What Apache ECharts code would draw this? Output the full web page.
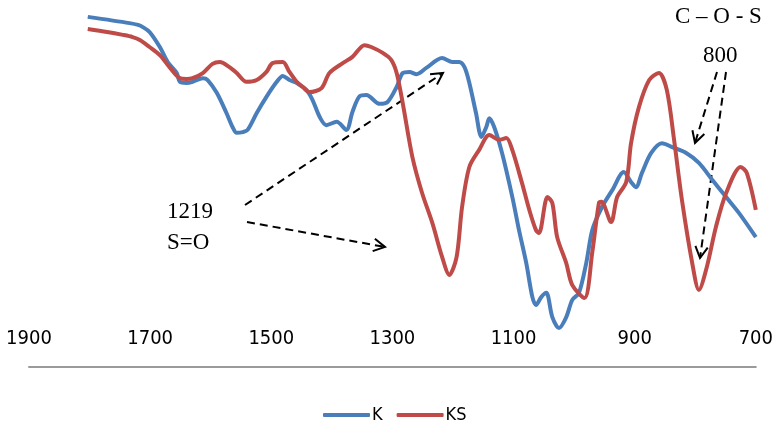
<!DOCTYPE html>
<html>
<head>
<meta charset="utf-8">
<script src="https://cdn.jsdelivr.net/npm/echarts@6/dist/echarts.min.js"></script>
<style>
html,body{margin:0;padding:0;background:#fff;}
#chart{width:776px;height:432px;}
</style>
</head>
<body>
<div id="chart"></div>
<script>
// Wavenumber tick labels (cm-1)
const tickLabels = [1900, 1700, 1500, 1300, 1100, 900, 700];
const seriesNames = ['K', 'KS'];
// [wavenumber, relative transmittance]
const kData = [
[1803,95.4],[1734,93.7],[1720,93.2],[1712,92.6],[1701,91.3],[1684,87.2],[1671,83.1],[1656,80.1],[1651,77.7],[1640,77.4],
[1630,77.7],[1613,78.7],[1605,78.2],[1590,74.7],[1574,69.2],[1564,65.4],[1557,63.8],[1547,64.0],[1539,64.6],[1524,69.2],
[1508,73.6],[1491,77.7],[1481,79.3],[1470,78.2],[1458,77.4],[1442,75.5],[1432,72.8],[1420,68.1],[1409,65.9],[1392,66.8],
[1376,64.6],[1366,69.5],[1354,73.8],[1343,74.1],[1321,71.7],[1308,72.2],[1293,76.3],[1283,80.1],[1272,80.4],[1260,79.8],
[1244,81.5],[1218,84.2],[1201,83.1],[1190,83.1],[1181,81.7],[1173,77.4],[1162,69.2],[1153,62.7],[1145,65.4],[1140,67.8],
[1132,65.4],[1119,58.3],[1102,46.3],[1091,37.3],[1079,28.3],[1069,19.1],[1063,16.9],[1054,19.1],[1046,20.2],[1036,13.6],
[1025,10.6],[1013,13.6],[1003,18.3],[992,20.2],[980,28.3],[970,37.3],[954,43.6],[937,48.2],[918,53.1],[906,50.4],
[898,49.0],[888,52.9],[873,58.3],[855,61.0],[838,59.9],[815,58.3],[794,55.6],[772,51.0],[749,46.3],[728,42.0],[700,35.4]
];
const ksData = [
[1803,92.1],[1771,91.3],[1745,90.5],[1729,89.9],[1717,89.1],[1701,87.2],[1684,85.0],[1668,81.7],[1651,78.7],[1640,78.5],
[1630,78.7],[1613,80.1],[1597,82.6],[1585,83.1],[1569,81.7],[1557,80.1],[1541,77.7],[1524,78.2],[1508,80.4],[1498,82.8],
[1481,83.1],[1470,80.4],[1458,77.7],[1448,76.3],[1437,74.9],[1417,76.0],[1404,80.1],[1382,82.8],[1366,84.5],[1346,87.7],
[1335,87.2],[1316,85.6],[1302,83.7],[1293,80.1],[1283,71.9],[1267,57.2],[1251,47.4],[1234,39.2],[1218,30.0],[1206,25.1],
[1194,30.0],[1185,43.6],[1173,54.5],[1157,59.1],[1140,63.2],[1124,61.9],[1112,62.4],[1102,59.1],[1086,50.1],[1074,42.8],
[1063,37.3],[1058,36.5],[1044,46.3],[1036,44.7],[1028,35.4],[1013,28.3],[1003,22.3],[983,18.8],[970,31.3],[959,44.7],
[955,45.0],[939,39.5],[929,46.3],[914,50.4],[906,61.0],[893,70.8],[876,78.2],[860,80.1],[847,75.5],[835,61.9],
[822,45.5],[805,28.3],[794,21.0],[781,27.2],[766,38.1],[749,47.4],[725,54.5],[715,52.9],[700,42.8]
];
const annoTexts = ['1219', 'S=O', 'C \u2013 O - S', '800'];

const chart = echarts.init(document.getElementById('chart'), null, {renderer: 'canvas'});

function arrow(x1, y1, x2, y2) {
  const ang = Math.atan2(y2 - y1, x2 - x1);
  const L = 13, a = 0.5;
  return [
    {type: 'line', shape: {x1, y1, x2, y2}, style: {stroke: '#000', lineWidth: 2, lineDash: [8, 5]}, silent: true},
    {type: 'polyline', shape: {points: [
      [x2 - L * Math.cos(ang - a), y2 - L * Math.sin(ang - a)], [x2, y2],
      [x2 - L * Math.cos(ang + a), y2 - L * Math.sin(ang + a)]]},
      style: {stroke: '#000', lineWidth: 2, fill: null}, silent: true}
  ];
}
function label(txt, x, y) {
  return {type: 'text', x, y, silent: true,
    style: {text: txt, font: '23px "Liberation Serif", serif', fill: '#000', verticalAlign: 'middle', align: 'left'}};
}

const tickSet = new Set(tickLabels);
const option = {
  animation: false,
  backgroundColor: '#fff',
  grid: {left: 29, right: 19, top: 0, bottom: 65, containLabel: false},
  legend: {
    data: seriesNames, left: 318, top: 401, icon: 'roundRect', itemWidth: 47, itemHeight: 4, itemGap: 14,
    textStyle: {fontFamily: '"DejaVu Sans Condensed", "DejaVu Sans", sans-serif', fontSize: 18, color: '#000', padding: [0, 0, 0, -3]}
  },
  xAxis: {
    type: 'value', inverse: true, min: 700, max: 1900, interval: 100,
    axisLine: {show: true, lineStyle: {color: '#9a9a9a', width: 2}},
    axisTick: {show: false},
    splitLine: {show: false},
    axisLabel: {
      inside: true, margin: 18, color: '#000', fontSize: 20,
      fontFamily: '"DejaVu Sans Condensed", "DejaVu Sans", sans-serif',
      formatter: v => tickSet.has(v) ? String(v) : '',
      showMinLabel: true, showMaxLabel: true
    }
  },
  yAxis: {type: 'value', min: 0, max: 100, show: false},
  series: [
    {name: 'K', type: 'line', data: kData, showSymbol: false, smooth: 0.3,
     color: '#4a7ebb', lineStyle: {width: 4, color: '#4a7ebb'}},
    {name: 'KS', type: 'line', data: ksData, showSymbol: false, smooth: 0.3,
     color: '#be4b48', lineStyle: {width: 4, color: '#be4b48'}}
  ],
  graphic: [
    label(annoTexts[0], 167, 212),
    label(annoTexts[1], 167, 243),
    label(annoTexts[2], 675, 17),
    label(annoTexts[3], 703, 56),
    ...arrow(245, 205, 443, 73),
    ...arrow(247, 222, 385, 247),
    ...arrow(717, 72, 695, 143),
    ...arrow(726, 72, 700, 258)
  ]
};
chart.setOption(option);
</script>
</body>
</html>
